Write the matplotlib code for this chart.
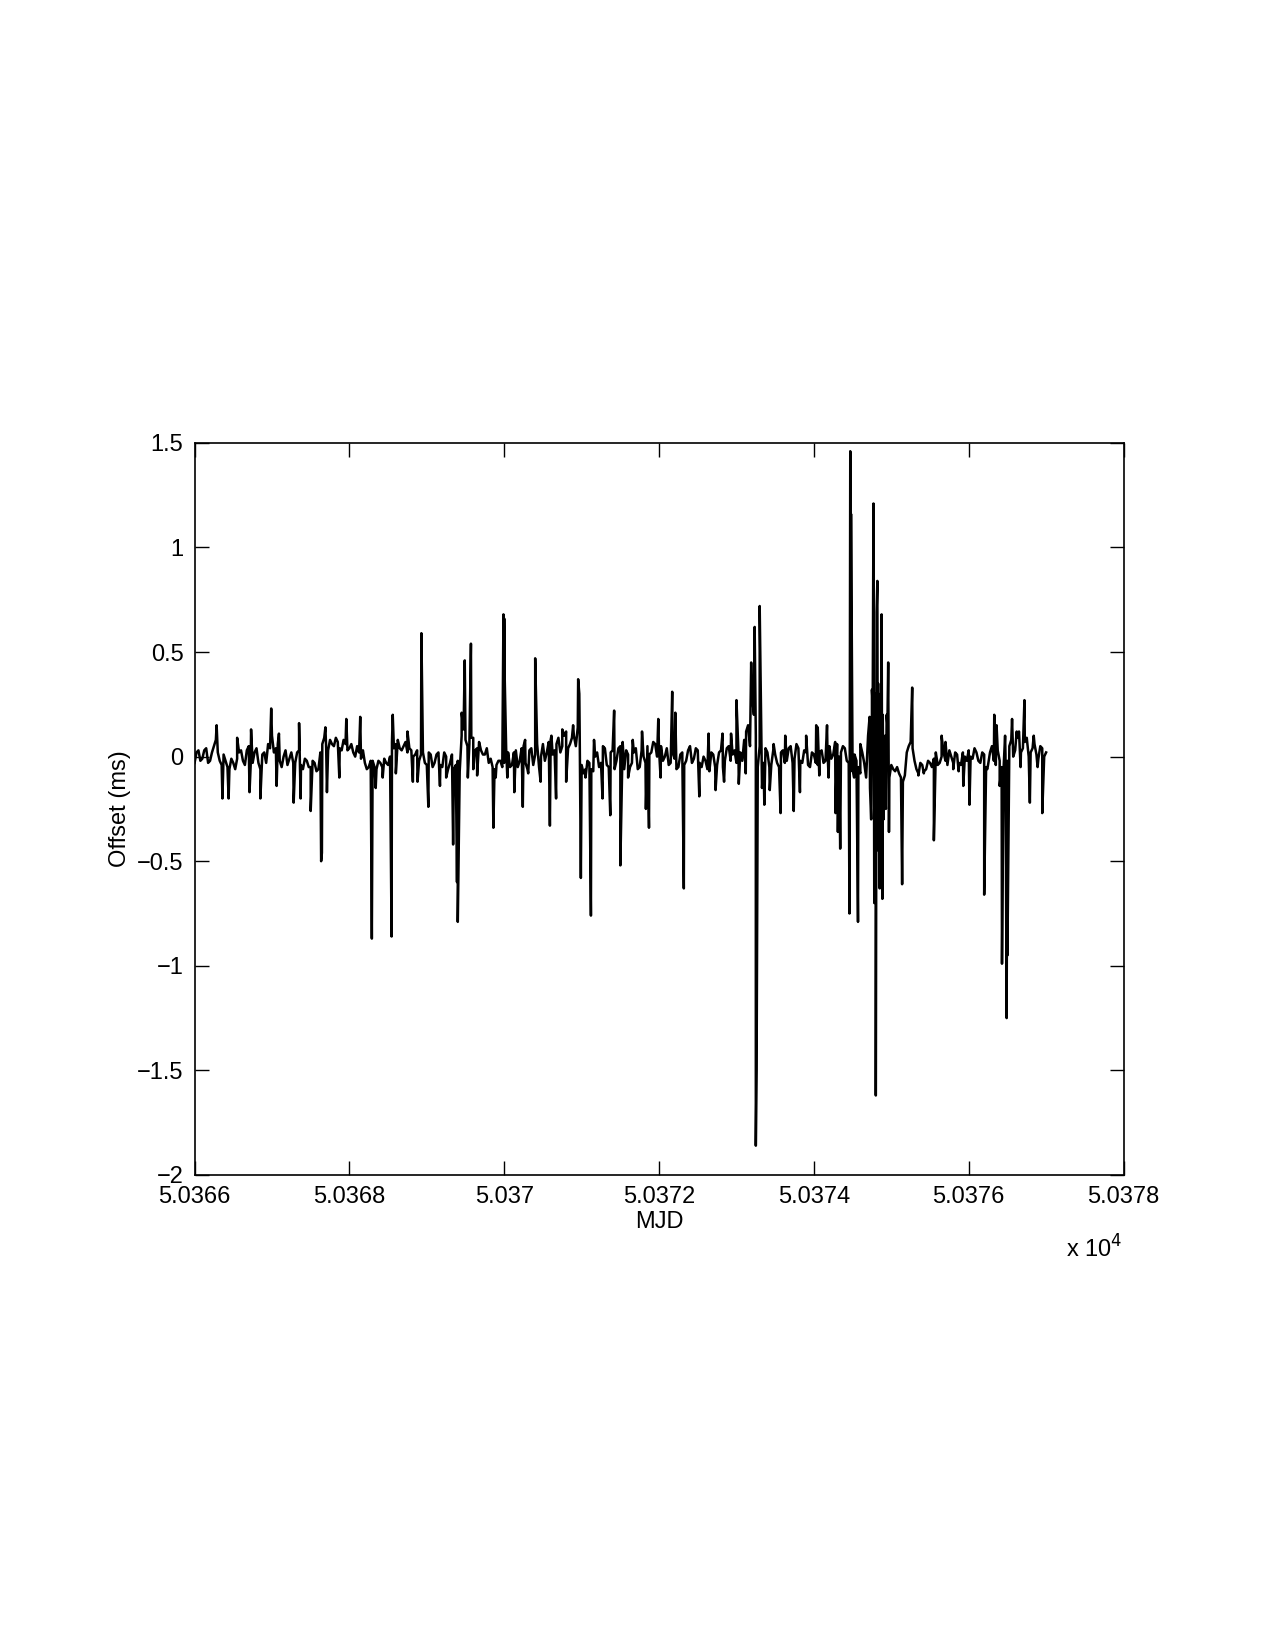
import matplotlib
matplotlib.use("Agg")
import matplotlib.pyplot as plt
import numpy as np

plt.rcParams['font.family'] = ['Liberation Sans', 'DejaVu Sans']

# slow baseline, one value every 0.05 day starting at MJD 50366.00
base_day0 = [-0.03, 0.03, -0.01, 0.04, -0.02, 0.05, 0.02, -0.04, -0.02, -0.06,
             -0.03, -0.01, 0.03, -0.04, 0.05, -0.03, 0.04, -0.06, 0.02, 0.06]
base_day1 = [0.10, 0.04, -0.02, 0.00, -0.04, 0.02, -0.03, 0.03, -0.06, -0.02,
             -0.05, -0.03, -0.06, 0.06, 0.04, 0.08, 0.05, 0.07, 0.03, 0.06]
base_day2 = [0.04, 0.02, 0.05, -0.01, -0.03, -0.05, -0.02, -0.06, -0.03, -0.01,
             -0.04, 0.07, 0.06, 0.04, 0.05, 0.02, 0.03, 0.01, -0.02, 0.02]
base_day3 = [-0.04, 0.01, -0.03, 0.02, -0.05, 0.00, -0.03, -0.06, -0.02, 0.10,
             0.08, 0.06, 0.09, 0.04, 0.03, 0.01, -0.03, -0.05, -0.04, -0.02]
base_day4 = [-0.03, 0.02, -0.04, 0.03, -0.02, 0.05, -0.06, 0.04, 0.01, -0.05,
             0.06, 0.02, 0.08, 0.03, 0.09, 0.05, 0.12, 0.06, 0.10, 0.14]
base_day5 = [-0.04, -0.06, -0.03, -0.07, 0.02, -0.03, 0.04, -0.05, 0.03, -0.02,
             0.05, -0.06, 0.01, -0.03, 0.04, -0.05, 0.00, 0.05, 0.02, 0.06]
base_day6 = [0.03, -0.02, 0.04, -0.03, -0.01, -0.05, 0.02, -0.02, 0.05, -0.01,
             0.03, -0.05, -0.02, -0.07, 0.01, -0.04, 0.03, -0.02, 0.05, 0.01]
base_day7 = [-0.03, 0.02, 0.08, 0.15, 0.30, 0.10, 0.05, -0.03, 0.02, -0.04,
             0.01, -0.05, 0.03, -0.02, 0.05, -0.01, 0.04, -0.03, 0.02, -0.05]
base_day8 = [0.01, -0.04, 0.03, -0.02, 0.05, 0.01, 0.06, 0.02, 0.04, -0.03,
             -0.06, -0.02, -0.08, -0.03, 0.10, 0.20, -0.25, 0.25, -0.30, 0.15]
base_day9 = [-0.04, -0.07, -0.08, -0.12, 0.02, 0.07, -0.02, -0.08, -0.04, -0.06,
             -0.03, -0.01, -0.04, 0.00, -0.02, 0.03, -0.03, 0.01, -0.04, 0.00]
base_day10 = [0.03, -0.01, 0.02, -0.03, 0.01, -0.04, 0.05, -0.04, -0.02, -0.06,
              -0.02, 0.08, 0.03, 0.12, 0.04, 0.09, 0.02, 0.06, -0.01, 0.04, 0.02]

# in-between samples, 0.025 day after each baseline sample
mid_day0 = [0.02, -0.02, 0.03, -0.03, 0.02, 0.08, -0.02, 0.01, -0.05, -0.01,
            -0.06, 0.02, -0.02, 0.03, -0.04, 0.02, -0.03, 0.01, -0.03, 0.04]
mid_day1 = [0.02, 0.06, -0.05, 0.03, -0.01, -0.03, 0.02, -0.04, -0.01, -0.05,
            -0.02, -0.07, 0.02, 0.09, 0.03, 0.06, 0.09, 0.04, 0.08, 0.03]
mid_day2 = [0.06, 0.00, 0.02, 0.03, -0.06, -0.02, -0.05, -0.02, -0.05, -0.03,
            0.00, 0.04, 0.08, 0.03, 0.07, 0.04, 0.00, 0.03, 0.01, -0.03]
mid_day3 = [0.02, -0.05, 0.01, -0.04, 0.02, -0.06, 0.01, -0.04, -0.07, 0.13,
            0.05, 0.09, 0.03, 0.07, 0.01, 0.04, -0.01, -0.06, -0.02, -0.05]
mid_day4 = [0.04, -0.05, 0.02, -0.05, 0.04, -0.03, 0.03, -0.04, 0.06, 0.00,
            -0.02, 0.07, 0.01, 0.06, 0.02, 0.10, 0.04, 0.09, 0.05, 0.11]
mid_day5 = [-0.08, -0.02, -0.06, 0.00, -0.05, 0.05, -0.04, 0.02, -0.06, 0.04,
            -0.03, 0.03, -0.05, 0.02, -0.06, 0.03, -0.03, 0.01, 0.07, 0.00]
mid_day6 = [0.05, 0.00, -0.04, 0.02, -0.06, 0.01, -0.04, 0.03, -0.03, 0.04,
            -0.03, 0.00, -0.06, 0.02, -0.05, 0.02, -0.05, 0.04, -0.02, 0.03]
mid_day7 = [0.03, -0.02, 0.12, 0.05, 0.20, -0.05, 0.02, 0.04, -0.05, 0.03,
            -0.03, 0.02, -0.03, 0.04, -0.03, 0.06, -0.02, 0.03, -0.04, 0.02]
mid_day8 = [-0.03, 0.02, -0.03, 0.04, -0.01, 0.07, 0.00, 0.05, -0.02, -0.07,
            0.01, -0.05, 0.02, -0.10, -0.15, 0.28, -0.20, 0.30, -0.20, -0.10]
mid_day9 = [-0.06, -0.05, -0.10, -0.09, 0.05, 0.04, -0.06, -0.03, -0.07, -0.02,
            -0.05, 0.02, -0.03, 0.02, -0.04, 0.00, 0.02, -0.03, 0.02, -0.02]
mid_day10 = [0.00, 0.04, -0.02, 0.02, -0.05, 0.02, -0.02, 0.03, -0.05, 0.01,
             0.05, 0.00, 0.09, 0.02, 0.07, 0.00, 0.04, 0.01, 0.05, 0.00]

# isolated excursions (MJD, offset in ms)
spike_t = [50366.285, 50366.36, 50366.44, 50366.55, 50366.71, 50366.73, 50366.85,
           50366.99, 50367.06, 50367.09, 50367.28, 50367.35, 50367.37, 50367.50,
           50367.635, 50367.645, 50367.69, 50367.71, 50367.87, 50367.96,
           50368.14, 50368.29, 50368.34, 50368.43, 50368.545, 50368.56, 50368.60,
           50368.75, 50368.82, 50368.88, 50368.93, 50369.02, 50369.17, 50369.25,
           50369.34, 50369.39, 50369.40, 50369.45, 50369.49, 50369.53, 50369.57,
           50369.60, 50369.65, 50369.86, 50369.89, 50369.99, 50370.00, 50370.005,
           50370.04, 50370.13, 50370.24, 50370.27, 50370.31, 50370.40, 50370.47,
           50370.59, 50370.61, 50370.67, 50370.75, 50370.80, 50370.89, 50370.955,
           50370.97, 50370.99, 50371.05, 50371.12, 50371.16, 50371.27, 50371.37,
           50371.42, 50371.50, 50371.53, 50371.60, 50371.66, 50371.78, 50371.83,
           50371.87, 50371.99, 50372.02, 50372.17, 50372.21, 50372.32, 50372.52,
           50372.64, 50372.73, 50372.82, 50372.84, 50372.93, 50373.00, 50373.03,
           50373.12, 50373.19, 50373.235, 50373.25, 50373.26, 50373.30, 50373.33,
           50373.36, 50373.43, 50373.48, 50373.57, 50373.63, 50373.74, 50373.82,
           50373.90, 50374.03, 50374.05, 50374.07, 50374.17, 50374.19, 50374.28,
           50374.31, 50374.34, 50374.46, 50374.47, 50374.48, 50374.52, 50374.57,
           50374.60, 50374.72, 50374.74, 50374.75, 50374.76, 50374.77, 50374.78,
           50374.79, 50374.80, 50374.81, 50374.82, 50374.83, 50374.835, 50374.84,
           50374.85, 50374.86, 50374.875, 50374.885, 50374.89, 50374.90, 50374.92,
           50374.93, 50374.94, 50374.96, 50374.97, 50375.14, 50375.27, 50375.35,
           50375.42, 50375.55, 50375.65, 50375.70, 50375.80, 50375.87, 50375.93,
           50376.01, 50376.20, 50376.24, 50376.33, 50376.36, 50376.40, 50376.43,
           50376.47, 50376.49, 50376.50, 50376.56, 50376.62, 50376.67, 50376.72,
           50376.79, 50376.84, 50376.89, 50376.95]
spike_y = [0.15, -0.20, -0.20, 0.09, -0.17, 0.13, -0.20,
           0.23, -0.14, 0.11, -0.22, 0.16, -0.20, -0.26,
           -0.50, -0.46, 0.14, -0.17, -0.10, 0.18,
           0.19, -0.87, -0.15, -0.10, -0.86, 0.20, -0.08,
           0.12, -0.12, -0.12, 0.59, -0.24, -0.14, -0.10,
           -0.42, -0.60, -0.79, 0.21, 0.46, -0.10, 0.54,
           -0.06, -0.09, -0.34, -0.10, 0.68, 0.66, 0.40,
           -0.10, -0.17, -0.24, 0.08, -0.08, 0.47, -0.12,
           -0.33, 0.10, -0.20, 0.13, -0.12, 0.15, 0.37,
           0.30, -0.58, -0.10, -0.76, 0.08, -0.20, -0.28,
           0.22, -0.52, 0.07, -0.10, 0.08, 0.12, -0.25,
           -0.34, 0.18, -0.10, 0.31, 0.21, -0.63, -0.19,
           0.11, -0.16, 0.11, -0.12, 0.11, 0.27, -0.13,
           -0.08, 0.45, 0.62, -1.86, -1.50, 0.72, -0.15,
           -0.23, -0.16, 0.06, -0.27, 0.10, -0.26, -0.17,
           0.10, 0.15, 0.14, -0.09, 0.15, -0.10, -0.27,
           -0.36, -0.44, -0.75, 1.46, 1.16, -0.10, -0.79,
           0.06, 0.19, -0.30, 0.32, 0.25, 1.21, -0.70,
           0.30, -1.62, 0.69, 0.84, 0.35, -0.45, -0.35,
           -0.63, 0.30, 0.68, -0.68, 0.20, -0.30, 0.10,
           -0.25, 0.20, 0.45, -0.36, -0.61, 0.33, -0.09,
           -0.08, -0.40, 0.10, 0.07, -0.06, -0.07, -0.14,
           -0.23, -0.66, -0.06, 0.20, 0.15, -0.14, -0.99,
           0.10, -1.25, -0.95, 0.18, 0.12, -0.05, 0.27,
           -0.22, 0.10, -0.05, -0.27]

x_ticks = [50366, 50368, 50370, 50372, 50374, 50376, 50378]
x_labels = ['5.0366', '5.0368', '5.037', '5.0372', '5.0374', '5.0376', '5.0378']
y_ticks = [-2, -1.5, -1, -0.5, 0, 0.5, 1, 1.5]
y_labels = ['\u22122', '\u22121.5', '\u22121', '\u22120.5', '0', '0.5', '1', '1.5']

base = (base_day0 + base_day1 + base_day2 + base_day3 + base_day4 + base_day5
        + base_day6 + base_day7 + base_day8 + base_day9 + base_day10)
mid = (mid_day0 + mid_day1 + mid_day2 + mid_day3 + mid_day4 + mid_day5
       + mid_day6 + mid_day7 + mid_day8 + mid_day9 + mid_day10)
t_base = 50366.0 + 0.05 * np.arange(len(base))
t_mid = 50366.025 + 0.05 * np.arange(len(mid))

t = np.concatenate([t_base, t_mid, spike_t])
y = np.concatenate([base, mid, spike_y])
order = np.argsort(t, kind='stable')
t = t[order]
y = y[order]

fig = plt.figure(figsize=(12.75, 16.5), dpi=100)
ax = fig.add_axes([0.1526, 0.2879, 0.7286, 0.4437])
ax.plot(t, y, color='black', linewidth=1.8)

ax.set_xlim(50366, 50378)
ax.set_ylim(-2, 1.5)
ax.set_xticks(x_ticks)
ax.set_xticklabels(x_labels)
ax.set_yticks(y_ticks)
ax.set_yticklabels(y_labels)
ax.tick_params(direction='in', length=10, width=1, top=True, right=True,
               labelsize=17, pad=8)
for s in ax.spines.values():
    s.set_linewidth(1.2)

ax.set_xlabel('MJD', fontsize=17, labelpad=2)
ax.set_ylabel('Offset (ms)', fontsize=17, labelpad=4)
fig.text(0.836, 0.243, 'x 10$^4$', fontsize=17, ha='left', va='center')

fig.savefig('out.png', dpi=100, facecolor='white')
